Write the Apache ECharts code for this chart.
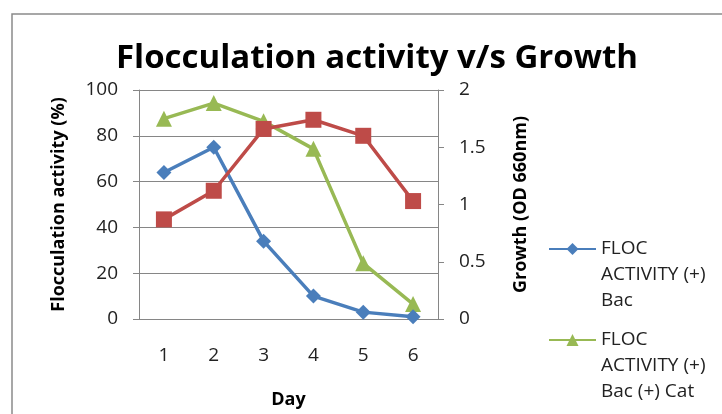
<!DOCTYPE html>
<html>
<head>
<meta charset="utf-8">
<script src="https://cdn.jsdelivr.net/npm/echarts@6/dist/echarts.min.js"></script>
<style>html,body{margin:0;padding:0;background:#fff;}#c{width:722px;height:414px;}</style>
</head>
<body>
<div id="c"></div>
<script>
const days = ['1', '2', '3', '4', '5', '6'];
const flocBac = [64, 75, 34, 10, 3, 1];
const flocBacCat = [87.5, 94.3, 86.3, 74.3, 24.3, 6.5];
const growth = [0.87, 1.12, 1.66, 1.74, 1.60, 1.03];
const leftTicks = [0, 20, 40, 60, 80, 100];
const rightTicks = [0, 0.5, 1, 1.5, 2];
const seriesNames = ['FLOC ACTIVITY (+) Bac', 'FLOC ACTIVITY (+) Bac (+) Cat', 'GROWTH (OD 660nm)'];
const legendLabels = ['FLOC\nACTIVITY (+)\nBac', 'FLOC\nACTIVITY (+)\nBac (+) Cat', 'GROWTH\n(OD 660nm)'];

const FONT = 'Open Sans';
function mkLegend(i, top) {
  return {
    orient: 'vertical', left: 543, top: top,
    itemWidth: 47, itemHeight: 15,
    textStyle: { fontFamily: FONT, fontSize: 19, color: '#222', lineHeight: 26 },
    formatter: function () { return '\n\n' + legendLabels[i]; },
    data: [seriesNames[i]]
  };
}
const chart = echarts.init(document.getElementById('c'));
chart.setOption({
  animation: false,
  backgroundColor: '#fff',
  title: {
    text: 'Flocculation activity v/s Growth',
    left: 372, top: 37, textAlign: 'center',
    textStyle: { fontFamily: FONT, fontWeight: 'bold', fontSize: 33, color: '#000' }
  },
  graphic: [{
    type: 'polyline', silent: true,
    shape: { points: [[12, 414], [12, 14], [722, 14]] },
    style: { stroke: '#8a8a8a', lineWidth: 1.5, fill: null }
  }],
  legend: [mkLegend(0, 179), mkLegend(1, 270), mkLegend(2, 430)],
  grid: { left: 139, right: 284, top: 90, bottom: 95 },
  xAxis: {
    type: 'category', data: days, boundaryGap: true,
    name: 'Day', nameLocation: 'middle', nameGap: 72,
    nameTextStyle: { fontFamily: FONT, fontWeight: 'bold', fontSize: 18, color: '#000' },
    axisLine: { lineStyle: { color: '#868686', width: 1 } },
    axisTick: { show: false },
    axisLabel: { fontFamily: FONT, fontSize: 19, color: '#222', margin: 27 }
  },
  yAxis: [{
    type: 'value', min: leftTicks[0], max: leftTicks[leftTicks.length - 1], interval: 20,
    name: 'Flocculation activity (%)', nameLocation: 'middle', nameGap: 71,
    nameTextStyle: { fontFamily: FONT, fontWeight: 'bold', fontSize: 18, color: '#000' },
    axisLine: { show: true, lineStyle: { color: '#868686', width: 1 } },
    axisTick: { show: true, length: 6, lineStyle: { color: '#868686' } },
    axisLabel: { fontFamily: FONT, fontSize: 19, color: '#222', margin: 21 },
    splitLine: { lineStyle: { color: '#868686', width: 1 } }
  }, {
    type: 'value', min: rightTicks[0], max: rightTicks[rightTicks.length - 1], interval: 0.5,
    name: 'Growth (OD 660nm)', nameLocation: 'middle', nameGap: 74,
    nameTextStyle: { fontFamily: FONT, fontWeight: 'bold', fontSize: 18, color: '#000' },
    axisLine: { show: true, lineStyle: { color: '#868686', width: 1 } },
    axisTick: { show: true, length: 6, lineStyle: { color: '#868686' } },
    axisLabel: { fontFamily: FONT, fontSize: 19, color: '#222', margin: 21 },
    splitLine: { show: false }
  }],
  series: [{
    name: seriesNames[0], type: 'line', yAxisIndex: 0, data: flocBac,
    symbol: 'diamond', symbolSize: 15,
    lineStyle: { color: '#4a7ebb', width: 3.5 }, itemStyle: { color: '#4a7ebb' }, z: 4
  }, {
    name: seriesNames[1], type: 'line', yAxisIndex: 0, data: flocBacCat,
    symbol: 'triangle', symbolSize: 16,
    lineStyle: { color: '#98b954', width: 3.5 }, itemStyle: { color: '#98b954' }, z: 3
  }, {
    name: seriesNames[2], type: 'line', yAxisIndex: 1, data: growth,
    symbol: 'rect', symbolSize: 16,
    lineStyle: { color: '#be4b48', width: 3.5 }, itemStyle: { color: '#be4b48' }, z: 5
  }]
});
</script>
</body>
</html>
